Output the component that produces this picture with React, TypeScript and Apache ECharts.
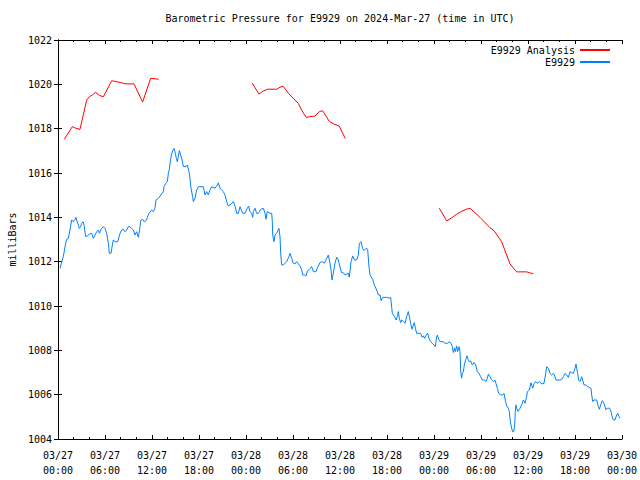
import React, { useEffect, useRef } from "react";
import * as echarts from "echarts";

// Hours since 2024-03-27 00:00 UTC
const TITLE = "Barometric Pressure for E9929 on 2024-Mar-27 (time in UTC)";
const Y_NAME = "milliBars";
const ANALYSIS_NAME = "E9929 Analysis";
const OBS_NAME = "E9929";

const analysisSeg1Hours = [0.8, 1.83, 2.26, 2.81, 3.66, 4.0, 4.38, 4.81, 5.28, 5.79, 6.85, 7.49, 8.13, 8.68, 9.7, 10.8, 11.83, 12.85];
const analysisSeg1Values = [1017.52, 1018.09, 1018.02, 1017.97, 1019.29, 1019.44, 1019.52, 1019.64, 1019.5, 1019.44, 1020.16, 1020.12, 1020.07, 1020.02, 1020.02, 1019.2, 1020.27, 1020.23];
const analysisSeg2Hours = [24.8, 25.66, 26.2, 26.77, 27.92, 28.34, 28.77, 29.4, 30.04, 30.68, 31.1, 31.66, 32.17, 32.8, 33.36, 33.79, 34.64, 35.23, 35.9, 36.68];
const analysisSeg2Values = [1020.05, 1019.56, 1019.7, 1019.78, 1019.78, 1019.87, 1019.91, 1019.6, 1019.37, 1019.14, 1018.84, 1018.51, 1018.54, 1018.57, 1018.77, 1018.81, 1018.32, 1018.21, 1018.12, 1017.55];
const analysisSeg3Hours = [48.68, 49.62, 50.26, 50.9, 51.53, 52.09, 52.6, 53.87, 55.15, 55.66, 56.64, 57.19, 57.7, 58.55, 59.83, 60.68];
const analysisSeg3Values = [1014.41, 1013.84, 1013.98, 1014.14, 1014.27, 1014.36, 1014.41, 1014.0, 1013.53, 1013.4, 1012.9, 1012.38, 1011.9, 1011.54, 1011.54, 1011.45];

const obsHours = [
  0.26, 0.47, 0.68, 0.98, 1.11, 1.32, 1.53, 1.75, 1.96, 2.17, 2.3, 2.38, 2.6, 2.72, 2.89, 3.02, 3.23, 3.36, 3.53, 3.75,
  4.0, 4.3, 4.51, 4.72, 4.94, 5.15, 5.28, 5.45, 5.58, 5.79, 6.0, 6.21, 6.43, 6.55, 6.77, 6.94, 7.06, 7.28, 7.62, 7.92,
  8.13, 8.34, 8.55, 8.77, 8.98, 9.19, 9.4, 9.62, 9.83, 10.04, 10.26, 10.47, 10.55, 10.81, 11.02, 11.32, 11.4, 11.62, 11.96, 12.17,
  12.38, 12.51, 12.81, 13.23, 13.45, 13.53, 13.75, 13.96, 14.09, 14.21, 14.3, 14.47, 14.64, 14.81, 14.98, 15.11, 15.23, 15.36, 15.49, 15.66,
  15.83, 16.0, 16.34, 16.51, 16.77, 16.98, 17.19, 17.28, 17.49, 17.7, 17.91, 18.55, 18.77, 18.98, 19.19, 19.4, 19.62, 20.04, 20.34, 20.47,
  20.68, 21.11, 21.32, 21.53, 21.74, 21.96, 22.17, 22.38, 22.6, 22.81, 23.02,
  23.24, 23.58, 23.87, 24.17, 24.34, 24.51, 24.72, 24.85, 24.94, 25.15, 25.36, 25.58, 25.87, 26.21, 26.43, 26.55, 26.72, 27.06, 27.28, 27.36,
  27.41, 27.58, 27.7, 27.92, 28.21, 28.34, 28.43, 28.55, 28.77, 29.19, 29.49, 29.62, 29.83, 30.04, 30.26, 30.47, 30.68, 30.89, 31.11, 31.24,
  31.45, 31.66, 31.87, 32.09, 32.38, 32.6, 32.94, 33.15, 33.45, 33.75, 34.0, 34.21, 34.51, 34.72, 34.85, 34.98, 35.15, 35.36, 35.58, 35.79,
  36.0, 36.21, 36.43, 36.64, 37.07, 37.19, 37.41, 37.62, 37.83, 38.13, 38.34, 38.47, 38.68, 38.89, 39.06, 39.32, 39.53, 39.7, 39.83, 40.17,
  40.38, 40.68, 40.89, 41.11, 41.24, 41.45, 41.96, 42.3, 42.47,
  42.68, 42.81, 43.02, 43.15, 43.32, 43.45, 43.57, 43.74, 43.87, 44.09, 44.3, 44.51, 44.72, 44.85, 45.02, 45.19, 45.36, 45.49, 45.62, 45.79,
  46.13, 46.3, 46.47, 46.64, 46.81, 46.98, 47.19, 47.36, 47.57, 47.79, 48.0, 48.17, 48.34, 48.43, 48.6, 48.77, 49.19, 49.4, 49.74, 49.96,
  50.17, 50.34, 50.47, 50.6, 50.72, 50.89, 51.02, 51.19, 51.32, 51.4, 51.53, 51.62, 51.75, 51.87, 52.04, 52.21, 52.38, 52.51, 52.68, 52.89,
  53.11, 53.32, 53.53, 53.74, 53.96, 54.17, 54.43, 54.64, 54.81, 54.94, 55.15, 55.36, 55.57, 55.79, 55.91, 56.09, 56.26, 56.51, 56.77, 56.94,
  57.11, 57.28, 57.49, 57.62, 57.7, 57.79, 57.91, 58.04, 58.17, 58.3, 58.38, 58.47, 58.55, 58.72,
  58.98, 59.19, 59.41, 59.62, 59.83, 59.92, 60.17, 60.38, 60.6, 60.77, 61.02, 61.19, 61.45, 61.75, 62.04, 62.26, 62.38, 62.6, 62.81, 63.02,
  63.23, 63.36, 63.58, 64.09, 64.3, 64.51, 64.72, 64.94, 65.15, 65.36, 65.58, 65.79, 66.0, 66.13, 66.21, 66.34, 66.47, 66.64, 66.85, 66.98,
  67.15, 67.41, 67.62, 67.83, 68.04, 68.13, 68.26, 68.43, 68.77, 68.98, 69.11, 69.28, 69.49, 69.7, 69.83, 69.96, 70.13, 70.38, 70.55, 70.68,
  70.89, 71.11, 71.32, 71.45, 71.62, 71.75,
];
const obsValues = [
  1011.7, 1011.98, 1012.23, 1012.83, 1013.01, 1013.05, 1013.43, 1013.88, 1013.8, 1013.91, 1014.0, 1013.88, 1013.65, 1013.5, 1013.58, 1013.73, 1013.8, 1013.58, 1013.13, 1013.16,
  1013.25, 1013.28, 1013.05, 1013.2, 1013.35, 1013.43, 1013.28, 1013.43, 1013.5, 1013.58, 1013.5, 1013.28, 1012.83, 1012.38, 1012.38, 1012.75, 1012.98, 1012.9, 1012.9, 1013.28,
  1013.43, 1013.46, 1013.35, 1013.43, 1013.58, 1013.58, 1013.5, 1013.43, 1013.2, 1013.35, 1013.1, 1013.58, 1013.85, 1013.91, 1013.8, 1013.88, 1014.0, 1014.18, 1014.33, 1014.26,
  1014.41, 1014.78, 1014.86, 1015.05, 1015.16, 1015.38, 1015.53, 1015.61, 1015.99, 1016.14, 1016.44, 1016.81, 1017.01, 1017.11, 1016.89, 1016.66, 1016.51, 1016.74, 1017.01, 1016.81,
  1016.59, 1016.29, 1016.29, 1016.36, 1015.99, 1015.31, 1014.93, 1014.71, 1014.86, 1015.23, 1015.38, 1015.38, 1015.01, 1015.16, 1015.01, 1015.23, 1015.38, 1015.31, 1015.46, 1015.56,
  1015.31, 1015.16, 1015.01, 1014.71, 1014.51, 1014.56, 1014.63, 1014.71, 1014.51, 1014.18, 1014.18,
  1014.48, 1014.18, 1014.18, 1014.41, 1014.51, 1014.26, 1014.18, 1014.0, 1014.26, 1014.41, 1014.18, 1014.18, 1014.36, 1014.41, 1014.18, 1013.91, 1014.26, 1014.18, 1014.18, 1013.81,
  1013.2, 1012.9, 1013.2, 1013.28, 1013.5, 1013.13, 1012.38, 1011.85, 1011.85, 1012.0, 1012.23, 1012.38, 1012.15, 1011.93, 1011.9, 1012.0, 1011.9, 1011.81, 1011.63, 1011.4,
  1011.4, 1011.35, 1011.59, 1011.65, 1011.78, 1011.55, 1011.55, 1011.75, 1011.96, 1012.0, 1011.93, 1012.08, 1012.3, 1011.93, 1011.63, 1011.17, 1011.48, 1011.93, 1012.2, 1012.08,
  1011.75, 1011.5, 1011.5, 1011.4, 1011.48, 1011.3, 1012.0, 1012.26, 1012.08, 1012.08, 1012.3, 1012.83, 1012.9, 1012.6, 1012.5, 1012.6, 1012.56, 1011.78, 1011.4, 1011.2,
  1010.95, 1010.72, 1010.5, 1010.5, 1010.24, 1010.39, 1010.39, 1010.35, 1010.39,
  1009.67, 1009.6, 1009.49, 1009.37, 1009.52, 1009.75, 1009.45, 1009.25, 1009.37, 1009.3, 1009.22, 1009.52, 1009.75, 1009.52, 1009.22, 1008.95, 1009.14, 1009.25, 1008.99, 1008.77,
  1008.77, 1008.77, 1008.59, 1008.65, 1008.54, 1008.69, 1008.77, 1008.54, 1008.39, 1008.32, 1008.24, 1008.17, 1008.62, 1008.69, 1008.5, 1008.39, 1008.39, 1008.32, 1008.32, 1008.39,
  1008.32, 1008.17, 1007.9, 1008.09, 1007.94, 1008.2, 1007.94, 1008.17, 1007.94, 1007.11, 1006.74, 1006.96, 1007.04, 1007.34, 1007.57, 1007.75, 1007.57, 1007.49, 1007.52, 1007.34,
  1007.45, 1007.34, 1007.04, 1006.96, 1006.81, 1006.66, 1006.66, 1006.59, 1006.74, 1006.93, 1006.81, 1006.66, 1006.59, 1006.66, 1006.51, 1006.29, 1006.06, 1005.99, 1005.99, 1006.06,
  1005.73, 1005.49, 1005.39, 1005.24, 1004.93, 1004.71, 1004.48, 1004.33, 1004.33, 1004.63, 1005.24, 1005.54, 1005.39, 1005.24,
  1005.39, 1005.54, 1005.76, 1005.61, 1005.91, 1006.14, 1006.21, 1006.54, 1006.29, 1006.51, 1006.59, 1006.51, 1006.59, 1006.48, 1006.51, 1006.96, 1007.26, 1007.19, 1006.96, 1006.89,
  1006.96, 1006.89, 1006.66, 1006.66, 1006.69, 1006.81, 1006.96, 1006.89, 1006.78, 1007.04, 1006.99, 1006.96, 1007.19, 1007.38, 1007.19, 1006.96, 1006.66, 1006.59, 1006.81, 1006.66,
  1006.44, 1006.44, 1006.36, 1006.33, 1006.29, 1005.99, 1005.69, 1005.76, 1005.76, 1005.46, 1005.34, 1005.54, 1005.73, 1005.61, 1005.46, 1005.31, 1005.39, 1005.39, 1005.31, 1005.08,
  1004.86, 1004.86, 1005.08, 1005.16, 1005.01, 1004.93,
];

const X_MIN = 0;
const X_MAX = 72;
const X_INTERVAL = 6;
const Y_MIN = 1004;
const Y_MAX = 1022;
const Y_INTERVAL = 2;

const FONT = "'DejaVu Sans Mono', 'Liberation Mono', monospace";
const RED = "#ff0000";
const BLUE = "#0080ff";

function pairs(hs: number[], vs: number[]) {
  return hs.map((h, i) => [h, vs[i]]);
}

function xLabel(v: number) {
  const day = 27 + Math.floor(v / 24);
  const hr = v % 24;
  const p = (n: number) => (n < 10 ? "0" + n : "" + n);
  return "03/" + p(day) + "\n" + p(hr) + ":00";
}

export default function App() {
  const ref = useRef<HTMLDivElement>(null);
  useEffect(() => {
    if (!ref.current) return;
    const chart = echarts.init(ref.current, undefined, { renderer: "svg" });
    const analysisData: any[] = [
      ...pairs(analysisSeg1Hours, analysisSeg1Values),
      [13.5, "-"],
      ...pairs(analysisSeg2Hours, analysisSeg2Values),
      [40, "-"],
      ...pairs(analysisSeg3Hours, analysisSeg3Values),
    ];
    const axisLine = { show: true, lineStyle: { color: "#000", width: 1 } };
    const tick = { show: true, inside: true, length: 4, lineStyle: { color: "#000" } };
    const minor = { show: true, splitNumber: 3, length: 2, lineStyle: { color: "#000" } };
    const textBase = { fontFamily: FONT, fontSize: 10, color: "#000" };
    const legendBase = {
      right: 30,
      padding: 0,
      align: "right",
      orient: "vertical",
      icon: "rect",
      itemWidth: 30,
      itemHeight: 2,
      textStyle: { ...textBase, lineHeight: 12 },
    };
    chart.setOption({
      animation: false,
      backgroundColor: "#fff",
      title: {
        text: TITLE,
        left: 340,
        textAlign: "center",
        top: 13,
        padding: 0,
        textStyle: { ...textBase, fontWeight: "normal" },
      },
      legend: [
        {
          ...legendBase,
          top: 44,
          data: [{ name: ANALYSIS_NAME, icon: "rect", itemStyle: { color: RED, borderColor: RED, borderWidth: 0 } }],
        },
        {
          ...legendBase,
          top: 56,
          data: [{ name: OBS_NAME, icon: "rect", itemStyle: { color: BLUE, borderColor: BLUE, borderWidth: 0 } }],
        },
      ],
      grid: { left: 58, right: 18, top: 40, bottom: 41, containLabel: false, outerBoundsMode: "none" },
      xAxis: [
        {
          type: "value",
          min: X_MIN,
          max: X_MAX,
          interval: X_INTERVAL,
          position: "bottom",
          axisLine,
          axisTick: tick,
          minorTick: minor,
          splitLine: { show: false },
          axisLabel: {
            ...textBase,
            margin: 9,
            lineHeight: 15,
            formatter: (v: number) => xLabel(v),
          },
        },
        {
          type: "value",
          min: X_MIN,
          max: X_MAX,
          interval: X_INTERVAL,
          position: "top",
          axisLine,
          axisTick: tick,
          minorTick: minor,
          splitLine: { show: false },
          axisLabel: { show: false },
        },
      ],
      yAxis: [
        {
          type: "value",
          min: Y_MIN,
          max: Y_MAX,
          interval: Y_INTERVAL,
          position: "left",
          name: Y_NAME,
          nameLocation: "middle",
          nameRotate: 90,
          nameGap: 41,
          nameTextStyle: textBase,
          axisLine,
          axisTick: tick,
          splitLine: { show: false },
          axisLabel: { ...textBase, margin: 6, formatter: (v: number) => String(v) },
        },
        {
          type: "value",
          min: Y_MIN,
          max: Y_MAX,
          interval: Y_INTERVAL,
          position: "right",
          axisLine,
          axisTick: tick,
          splitLine: { show: false },
          axisLabel: { show: false },
        },
      ],
      series: [
        {
          name: ANALYSIS_NAME,
          type: "line",
          data: analysisData,
          symbol: "none",
          connectNulls: false,
          lineStyle: { color: RED, width: 1 },
          itemStyle: { color: RED },
        },
        {
          name: OBS_NAME,
          type: "line",
          data: pairs(obsHours, obsValues),
          symbol: "none",
          lineStyle: { color: BLUE, width: 1 },
          itemStyle: { color: BLUE },
        },
      ],
    });
    return () => chart.dispose();
  }, []);
  return <div ref={ref} style={{ width: 640, height: 480, position: "absolute", left: 0, top: 0 }} />;
}
